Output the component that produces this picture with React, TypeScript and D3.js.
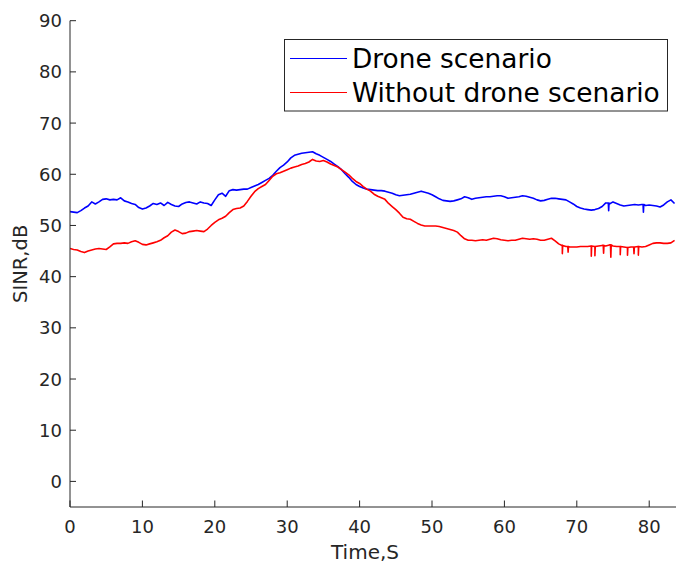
import React from "react";
import * as d3 from "d3";

// SINR traces sampled every 0.5 s, from t = 0 s
const SAMPLE_STEP = 0.5;

const droneSINR: number[] = [
  52.7, 52.6, 52.5, 52.9, 53.4, 53.8, 54.6, 54.2, 54.6, 55.1,
  55.2, 55.0, 55.1, 55.0, 55.4, 54.8, 54.6, 54.3, 54.1, 53.5,
  53.2, 53.4, 53.8, 54.3, 54.1, 54.4, 53.9, 54.5, 54.1, 53.8,
  53.7, 54.2, 54.5, 54.6, 54.4, 54.2, 54.6, 54.4, 54.3, 53.9,
  55.0, 56.0, 56.3, 55.7, 56.8, 57.0, 56.9, 57.0, 57.1, 57.1,
  57.4, 57.7, 58.0, 58.4, 58.8, 59.2, 59.8, 60.6, 61.3, 61.8,
  62.4, 63.2, 63.7, 63.9, 64.1, 64.2, 64.3, 64.4, 64.0, 63.7,
  63.3, 62.9, 62.5, 62.0, 61.5, 60.9, 60.1, 59.4, 58.6, 58.0,
  57.6, 57.3, 57.1, 57.0, 56.9, 56.8, 56.8, 56.7, 56.5, 56.3,
  56.0, 55.8, 55.9, 56.0, 56.1, 56.3, 56.5, 56.7, 56.5, 56.3,
  56.0, 55.6, 55.2, 54.9, 54.8, 54.7, 54.8, 55.0, 55.2, 55.6,
  55.4, 55.1, 55.3, 55.4, 55.5, 55.6, 55.6, 55.7, 55.8, 55.8,
  55.6, 55.3, 55.4, 55.5, 55.6, 55.8, 55.7, 55.5, 55.3, 55.0,
  54.8, 54.9, 55.1, 55.3, 55.3, 55.2, 55.1, 55.0, 54.6, 54.2,
  53.7, 53.4, 53.2, 53.1, 53.0, 53.1, 53.3, 53.7, 54.4, 54.2,
  54.6, 54.3, 54.0, 53.8, 53.9, 54.0, 54.1, 54.0, 54.1, 53.9,
  54.0, 53.9, 53.8, 53.6, 54.0, 54.6, 55.0, 54.3,
];

const noDroneSINR: number[] = [
  45.5, 45.3, 45.2, 44.9, 44.7, 45.0, 45.2, 45.4, 45.5, 45.4,
  45.3, 45.8, 46.4, 46.5, 46.5, 46.6, 46.5, 46.8, 47.0, 46.7,
  46.3, 46.2, 46.4, 46.6, 46.8, 47.1, 47.6, 48.0, 48.7, 49.1,
  48.8, 48.4, 48.5, 48.8, 48.9, 49.0, 48.9, 48.8, 49.3, 50.0,
  50.6, 51.1, 51.4, 51.8, 52.5, 53.1, 53.3, 53.4, 53.8, 54.7,
  55.7, 56.6, 57.2, 57.6, 58.0, 58.8, 59.6, 60.1, 60.3, 60.6,
  60.9, 61.2, 61.4, 61.6, 61.9, 62.1, 62.4, 62.9, 62.6, 62.5,
  62.7, 62.4, 62.0, 61.7, 61.4, 60.9, 60.4, 59.9, 59.2, 58.6,
  58.2, 57.6, 57.1, 56.7, 56.1, 55.7, 55.4, 55.1, 54.3, 53.7,
  53.1, 52.4, 51.6, 51.3, 51.2, 50.8, 50.4, 50.1, 49.9, 49.9,
  49.9, 49.9, 49.8, 49.6, 49.4, 49.2, 49.0, 48.7, 48.0, 47.4,
  47.1, 47.1, 47.0, 47.1, 47.2, 47.1, 47.3, 47.5, 47.4, 47.2,
  47.1, 47.0, 47.1, 47.1, 47.3, 47.5, 47.4, 47.3, 47.4, 47.3,
  47.1, 47.1, 47.3, 47.5, 47.0, 46.4, 46.1, 45.9, 45.8, 45.8,
  45.8, 45.9, 45.9, 45.9, 46.0, 45.9, 46.0, 46.1, 46.0, 46.2,
  46.0, 45.9, 45.9, 45.8, 45.7, 45.8, 45.8, 45.9, 45.8, 45.9,
  46.2, 46.5, 46.6, 46.6, 46.5, 46.5, 46.6, 47.1,
];

// Short fading dips [time s, SINR dB]
const droneDips: [number, number][] = [
  [74.4, 52.9],
  [79.2, 52.6],
];

const noDroneDips: [number, number][] = [
  [68.0, 44.5],
  [68.8, 44.8],
  [72.0, 44.0],
  [72.5, 44.1],
  [73.7, 44.6],
  [74.7, 43.8],
  [76.0, 44.3],
  [77.0, 44.2],
  [77.9, 44.5],
  [78.5, 44.2],
];

const xTicks = [0, 10, 20, 30, 40, 50, 60, 70, 80];
const yTicks = [0, 10, 20, 30, 40, 50, 60, 70, 80, 90];

const seriesNames = ["Drone scenario", "Without drone scenario"];
const seriesColors = ["#0000ff", "#ff0000"];

const W = 676;
const H = 563;
const M = { left: 70, right: 676, top: 20.7, bottom: 507 };
const AXIS = "#262626";
const FONT = "'DejaVu Sans', sans-serif";

function toPoints(values: number[], dips: [number, number][]): [number, number][] {
  const pts: [number, number][] = values.map((v, i) => [i * SAMPLE_STEP, v]);
  // each dip is a one-sample drop back to the trace
  dips.forEach(([t, v]) => {
    const i = Math.floor(t / SAMPLE_STEP);
    const before = values[i];
    pts.push([t - 0.05, before], [t, v], [t + 0.05, before]);
  });
  return pts.sort((a, b) => a[0] - b[0]);
}

export default function App() {
  const x = d3.scaleLinear().domain([0, 83.7]).range([M.left, M.right]);
  const y = d3.scaleLinear().domain([-5, 90]).range([M.bottom, M.top]);

  const line = d3
    .line<[number, number]>()
    .x((d) => x(d[0]))
    .y((d) => y(d[1]));

  const series = [
    toPoints(droneSINR, droneDips),
    toPoints(noDroneSINR, noDroneDips),
  ];

  return (
    <svg
      width={W}
      height={H}
      style={{ position: "absolute", left: 0, top: 0, background: "#fff" }}
      fontFamily={FONT}
    >
      <rect x={0} y={0} width={W} height={H} fill="#fff" />
      <defs>
        <clipPath id="plot-area">
          <rect x={M.left} y={M.top} width={M.right - M.left} height={M.bottom - M.top} />
        </clipPath>
      </defs>

      {/* traces */}
      <g clipPath="url(#plot-area)">
        {series.map((pts, i) => (
          <path
            key={seriesNames[i]}
            d={line(pts) || ""}
            fill="none"
            stroke={seriesColors[i]}
            strokeWidth={1.6}
            strokeLinejoin="round"
          />
        ))}
      </g>

      {/* axes */}
      <line x1={M.left} x2={M.left} y1={M.top} y2={M.bottom} stroke={AXIS} strokeWidth={1} />
      <line x1={M.left} x2={M.right} y1={M.bottom} y2={M.bottom} stroke={AXIS} strokeWidth={1} />

      {yTicks.map((t) => (
        <g key={"y" + t}>
          <line x1={M.left} x2={M.left + 6} y1={y(t)} y2={y(t)} stroke={AXIS} />
          <text
            x={M.left - 8}
            y={y(t)}
            dy="0.36em"
            textAnchor="end"
            fontSize={18}
            fill={AXIS}
          >
            {t}
          </text>
        </g>
      ))}

      {xTicks.map((t) => (
        <g key={"x" + t}>
          <line x1={x(t)} x2={x(t)} y1={M.bottom} y2={M.bottom - 6.5} stroke={AXIS} />
          <text x={x(t)} y={532.5} textAnchor="middle" fontSize={18} fill={AXIS}>
            {t}
          </text>
        </g>
      ))}

      <text x={365} y={559} textAnchor="middle" fontSize={20} fill={AXIS}>
        Time,S
      </text>
      <text
        transform={`translate(27,${(M.top + M.bottom) / 2}) rotate(-90)`}
        textAnchor="middle"
        fontSize={19.5}
        fill={AXIS}
      >
        SINR,dB
      </text>

      {/* legend */}
      <g>
        <rect x={284.5} y={39.5} width={383} height={71.5} fill="#fff" stroke={AXIS} strokeWidth={1} />
        {seriesNames.map((name, i) => {
          const cy = 58.5 + i * 34;
          return (
            <g key={name}>
              <line x1={290} x2={347} y1={cy} y2={cy} stroke={seriesColors[i]} strokeWidth={1} />
              <text x={352} y={cy} dy="0.36em" fontSize={26.4} fill="#000">
                {name}
              </text>
            </g>
          );
        })}
      </g>
    </svg>
  );
}
